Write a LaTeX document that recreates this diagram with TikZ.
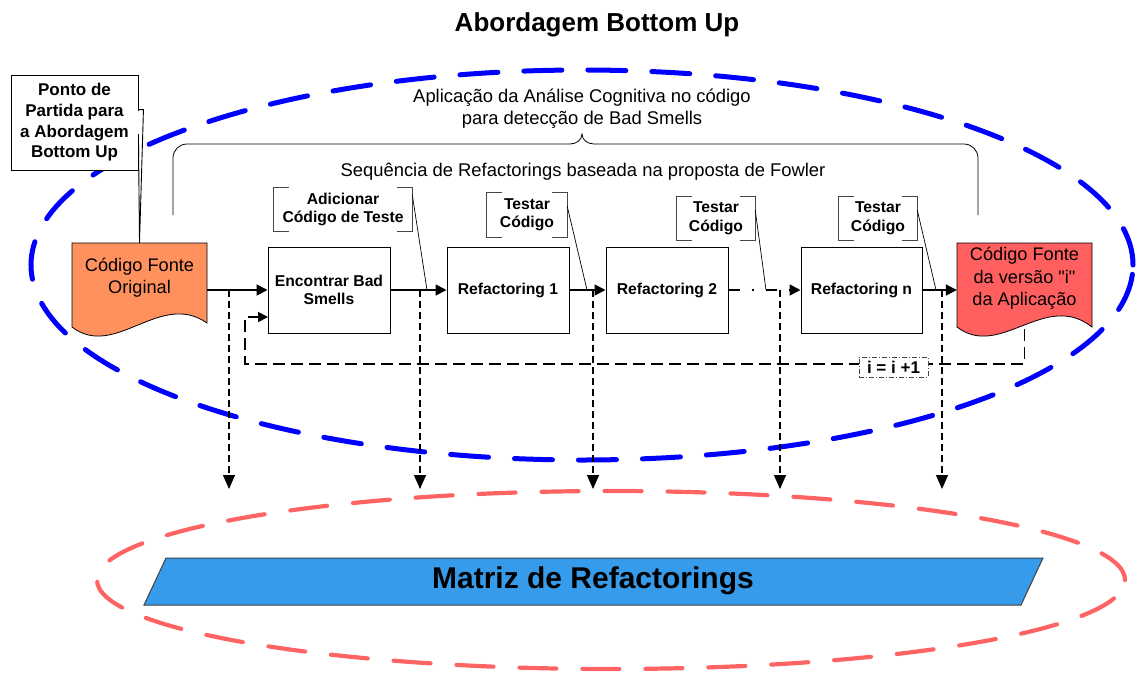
\documentclass[tikz,border=0pt]{standalone}
\usepackage{fontspec}
\setmainfont{Liberation Sans}[Ligatures=TeXOff]
\usetikzlibrary{arrows.meta,calc}

\definecolor{ovalblue}{RGB}{0,0,255}
\definecolor{ovalred}{RGB}{255,100,100}
\definecolor{srcorange}{RGB}{255,145,95}
\definecolor{srcred}{RGB}{255,95,95}
\definecolor{matrixblue}{RGB}{55,155,235}
\definecolor{brackgray}{RGB}{70,70,70}

\begin{document}
\begin{tikzpicture}[x=1pt,y=-1pt,
  flow/.style={line width=1.8pt, -{Triangle[length=11pt,width=11pt]}},
  drop/.style={line width=1.2pt, dash pattern=on 7pt off 4pt, -{Triangle[length=14pt,width=12pt]}},
  fbline/.style={line width=1.8pt, dash pattern=on 12pt off 6pt, -{Triangle[length=10pt,width=10pt]}},
  stepbox/.style={draw, line width=1pt, fill=white, minimum width=122pt, minimum height=86pt,
    inner sep=0pt, align=center, font=\bfseries\fontsize{15.7}{18}\selectfont},
  docnode/.style={minimum width=135pt, minimum height=94pt, inner sep=0pt},
  doctext/.style={align=center, inner sep=0pt, font=\fontsize{18.2}{22.3}\selectfont},
  docline/.style={draw=black, line width=0.8pt},
  tagnode/.style={inner sep=0pt, align=center, font=\bfseries\fontsize{15.7}{18.5}\selectfont},
  bracket/.style={draw=brackgray, line width=1pt},
  leader/.style={draw=black, line width=0.7pt},
  plaintext/.style={inner sep=0pt, align=center, font=\fontsize{18.4}{22}\selectfont},
  callout/.style={draw=black, line width=0.9pt, fill=white, minimum width=127pt, minimum height=95pt,
    inner sep=0pt, align=center, font=\bfseries\fontsize{17}{20.7}\selectfont},
  incnode/.style={draw=brackgray, line width=0.9pt, dash pattern=on 5pt off 2pt on 1pt off 2pt,
    fill=white, minimum width=69pt, minimum height=20pt, inner sep=0pt,
    font=\bfseries\fontsize{17}{20}\selectfont}
]
\useasboundingbox (0,0) rectangle (1138,675);

% title
\node[anchor=base, inner sep=0pt, font=\bfseries\fontsize{26}{30}\selectfont] (title) at (597,31) {Abordagem Bottom Up};

% outer dashed ovals
\draw[ovalblue, line width=5pt, line cap=round, dash pattern=on 38pt off 26pt]
  (582,265) ellipse [x radius=551pt, y radius=195pt];
\draw[ovalred, line width=4.2pt, line cap=round, dash pattern=on 37pt off 26pt]
  (611,580) ellipse [x radius=514pt, y radius=89pt];

% refactoring matrix
\draw[draw=black!75, line width=1pt, fill=matrixblue] (166,558) -- (1043,558) -- (1021,605) -- (144,605) -- cycle;
\node[inner sep=0pt, font=\bfseries\fontsize{30}{34}\selectfont] (matrix) at (593,581) {Matriz de Refactorings};

% curly brace and its captions
\draw[line width=0.8pt] (173,215) -- (173,158) to[out=90,in=180] (187,144) -- (570,144)
  to[out=0,in=-90] (582,134) to[out=-90,in=180] (594,144) -- (964,144)
  to[out=0,in=90] (978,158) -- (978,215);
\node[plaintext] (cog) at (582,109) {Aplicação da Análise Cognitiva no código\\para detecção de Bad Smells};
\node[plaintext] (seq) at (583,172) {Sequência de Refactorings baseada na proposta de Fowler};

% source documents
\node[docnode] (orig) at (139.5,290) {};
\draw[docline, fill=srcorange] (72,243) -- (207,243) -- (207,323)
  .. controls (160,290) and (115,360) .. (72,327) -- cycle;
\node[doctext] (origtxt) at ([yshift=12pt]orig.center) {Código Fonte\\Original};

\node[docnode] (vers) at (1024.5,290) {};
\draw[docline, fill=srcred] (957,243) -- (1092,243) -- (1092,327)
  .. controls (1045,290) and (1000,360) .. (957,327) -- cycle;
\node[doctext] (verstxt) at ([yshift=11.5pt]vers.center) {Código Fonte\\da versão "i"\\da Aplicação};

% process steps
\node[stepbox] (enc) at (329,290) {Encontrar Bad\\Smells};
\node[stepbox] (r1) at (508,290) {Refactoring 1};
\node[stepbox] (r2) at (667,290) {Refactoring 2};
\node[stepbox, minimum width=121pt] (rn) at (861.5,290) {Refactoring n};

% main flow
\draw[flow] (orig.east) -- (enc.west);
\draw[flow] (enc.east) -- (r1.west);
\draw[flow] (r1.east) -- (r2.west);
\draw[flow, dash pattern=on 11pt off 12pt on 2pt off 12pt] (r2.east) -- (rn.west);
\draw[flow] (rn.east) -- (vers.west);

% drops into the matrix
\foreach \i/\x in {1/229,2/420,3/593,4/780,5/942}{
  \coordinate (v\i) at (\x,290);
  \coordinate (w\i) at (\x,489);
  \draw[drop] (v\i) -- (w\i);
}

% iteration loop
\coordinate (fbl) at (245,364);
\coordinate (fbin) at (268,317);
\draw[fbline] ([yshift=8pt]vers.south) |- (fbl) |- (fbin);
\node[incnode] (inc) at (893.5,367) {i = i +1};

% annotation brackets
\node[tagnode, minimum width=138pt, minimum height=43pt] (add) at (343,209.5) {Adicionar\\Código de Teste};
\node[tagnode, minimum width=80pt, minimum height=44pt] (t1) at (527,215) {Testar\\Código};
\node[tagnode, minimum width=78pt, minimum height=43pt] (t2) at (716,218.5) {Testar\\Código};
\node[tagnode, minimum width=78pt, minimum height=43pt] (t3) at (878,218.5) {Testar\\Código};
\foreach \n in {add,t1,t2,t3}{
  \draw[bracket] ([xshift=15pt]\n.north west) -- (\n.north west) -- (\n.south west) -- ([xshift=15pt]\n.south west);
  \draw[bracket] ([xshift=-15pt]\n.north east) -- (\n.north east) -- (\n.south east) -- ([xshift=-15pt]\n.south east);
}
\coordinate (la) at (427,290);
\coordinate (l1) at (587,290);
\coordinate (l2) at (766,290);
\coordinate (l3) at (936,290);
\draw[leader] ($(add.north east)!0.15!(add.south east)$) -- (la);
\draw[leader] ($(t1.north east)!0.3!(t1.south east)$) -- (l1);
\draw[leader] ($(t2.north east)!0.3!(t2.south east)$) -- (l2);
\draw[leader] ($(t3.north east)!0.3!(t3.south east)$) -- (l3);

% starting-point callout
\node[callout] (start) at (74.5,122.5) {Ponto de\\Partida para\\a Abordagem\\Bottom Up};
\draw[white, line width=1.6pt] ([yshift=-36pt]start.north east) -- ([yshift=-59pt]start.north east);
\draw[line width=0.9pt] ([yshift=-35pt]start.north east) -- ++(5,0) -- (orig.north)
  -- ([yshift=-60pt]start.north east);
\end{tikzpicture}
\end{document}
